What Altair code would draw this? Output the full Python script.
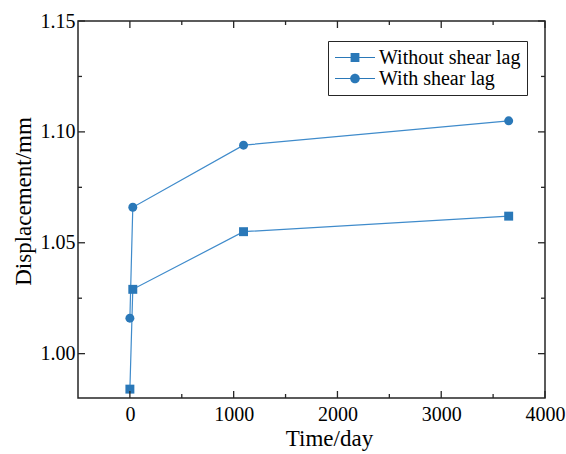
import altair as alt
import pandas as pd

# Time after loading (days) and mid-span displacement (mm)
days = [0, 28, 1095, 3650]
without_lag = [0.984, 1.029, 1.055, 1.062]
with_lag = [1.016, 1.066, 1.094, 1.105]
series_names = ["Without shear lag", "With shear lag"]
series_shapes = ["square", "circle"]

# Axis tick positions
x_major = [0, 1000, 2000, 3000, 4000]
x_minor = [500, 1500, 2500, 3500]
y_major = [1.00, 1.05, 1.10, 1.15]
y_minor = [1.025, 1.075, 1.125]

W, H = 467, 377
FONT = "Liberation Serif"
MARKER = "#2a78b8"
LINE = "#3f8bcb"
FRAME = "#262626"

df = pd.DataFrame({
    "day": days * 2,
    "disp": without_lag + with_lag,
    "series": [series_names[0]] * len(days) + [series_names[1]] * len(days),
})

x_scale = alt.Scale(domain=[-500, 4000], nice=False, zero=False)
y_scale = alt.Scale(domain=[0.98, 1.15], nice=False, zero=False)

x_axis = alt.Axis(
    values=x_major, title="Time/day", labelPadding=6, labelFlush=False,
    labelOverlap=False, titleX=251, titleY=47, titleAlign="center",
    titleBaseline="alphabetic", format="d",
)
y_axis = alt.Axis(
    values=y_major, format=".2f", title="Displacement/mm", labelPadding=3,
    labelFlush=False, labelOverlap=False, titleX=-48, titleY=180,
    titleAngle=270, titleAlign="center", titleBaseline="alphabetic",
)

base = alt.Chart(df).encode(
    x=alt.X("day:Q", scale=x_scale, axis=x_axis),
    y=alt.Y("disp:Q", scale=y_scale, axis=y_axis),
)

lines = base.mark_line(color=LINE, strokeWidth=1.2).encode(detail="series:N")

point_layers = [
    base.transform_filter(alt.datum.series == name).mark_point(
        filled=True, opacity=1, color=MARKER, size=80, shape=shape
    )
    for name, shape in zip(series_names, series_shapes)
]

# Legend-only layer: each symbol is a short line segment with the series marker
stub = "M-1,-0.03H-0.22V0.03H-1ZM0.22,-0.03H1V0.03H0.22Z"
legend_paths = [
    stub + "M-0.22,-0.22H0.22V0.22H-0.22Z",
    stub + "M0.24,0A0.24,0.24 0 1 1 -0.24,0A0.24,0.24 0 1 1 0.24,0Z",
]
legend_layer = base.transform_filter("false").mark_point(
    filled=True, color=MARKER, opacity=1, size=1600
).encode(
    shape=alt.Shape(
        "series:N",
        scale=alt.Scale(domain=series_names, range=legend_paths),
        legend=alt.Legend(
            title=None, orient="none", legendX=250, legendY=20,
            labelFont=FONT, labelFontSize=20, labelColor="black",
            labelOffset=3, clipHeight=21, rowPadding=0, padding=6,
            strokeColor=FRAME, fillColor="white", cornerRadius=0,
            symbolSize=1600, symbolOpacity=1,
        ),
    ),
)


def x_ticks(values, length, top):
    y0 = 0 if top else H
    y1 = length if top else H - length
    return alt.Chart(pd.DataFrame({"v": values})).mark_rule(
        color=FRAME, strokeWidth=1.3
    ).encode(
        x=alt.X("v:Q", scale=x_scale, axis=x_axis),
        y=alt.value(y0), y2=alt.value(y1),
    )


def y_ticks(values, length, right):
    x0 = W if right else 0
    x1 = W - length if right else length
    return alt.Chart(pd.DataFrame({"v": values})).mark_rule(
        color=FRAME, strokeWidth=1.3
    ).encode(
        y=alt.Y("v:Q", scale=y_scale, axis=y_axis),
        x=alt.value(x0), x2=alt.value(x1),
    )


tick_layers = [
    x_ticks(x_major, 7, False), x_ticks(x_minor, 4, False),
    x_ticks(x_major, 7, True), x_ticks(x_minor, 4, True),
    y_ticks(y_major, 7, False), y_ticks(y_minor, 4, False),
    y_ticks(y_major, 7, True), y_ticks(y_minor, 4, True),
]

chart = alt.layer(
    lines, *point_layers, legend_layer, *tick_layers
).properties(
    width=W, height=H, background="white",
    autosize=alt.AutoSizeParams(type="none"),
    padding={"left": 78, "top": 21, "right": 21, "bottom": 56},
).configure_view(
    stroke=FRAME, strokeWidth=1.5
).configure_axis(
    labelFont=FONT, labelFontSize=20, labelColor="black",
    titleFont=FONT, titleFontSize=23, titleColor="black", titleFontWeight="normal",
    domain=False, ticks=False, tickSize=0, grid=False,
)

chart.save("out.html", embed_options={"renderer": "svg", "actions": False})
